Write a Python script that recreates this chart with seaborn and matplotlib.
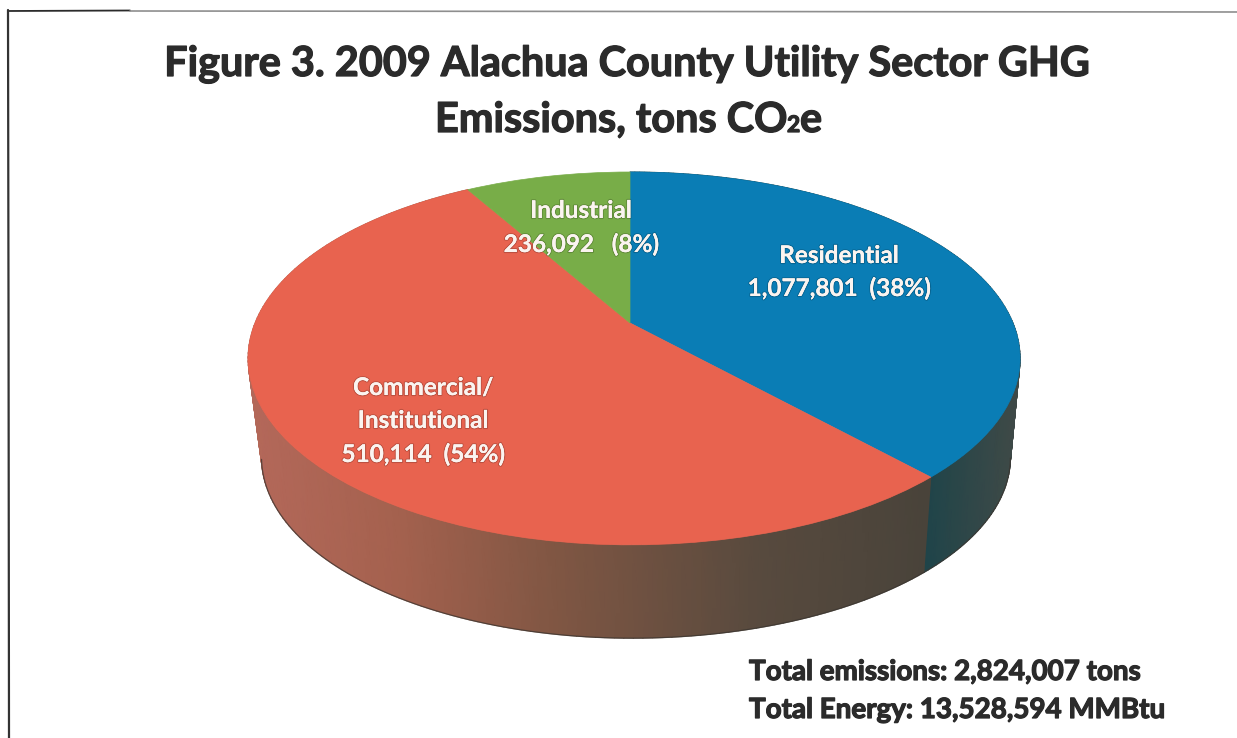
import numpy as np
import seaborn as sns
import matplotlib
matplotlib.use("Agg")
import matplotlib.pyplot as plt
import matplotlib.patheffects as pe
from matplotlib.colors import LinearSegmentedColormap
from matplotlib.transforms import Transform

# data
sectors = ["Residential", "Commercial/\nInstitutional", "Industrial"]
tons_labels = ["1,077,801", "510,114", "236,092"]
percent_labels = ["38%", "54%", "8%"]
label_gaps = ["  ", "  ", "   "]
slice_shares = [38.2, 53.4, 8.4]
totals = ["Total emissions: 2,824,007 tons", "Total Energy: 13,528,594 MMBtu"]

# colours
top_colors = sns.color_palette(["#0a7db5", "#e8634f", "#78ad48"])
wall_stops = {
    "Residential": [(925, "#1f4449"), (1020, "#414a47")],
    "Commercial/\nInstitutional": [(250, "#b4685a"), (400, "#a4614e"), (560, "#7f5643"),
                                   (760, "#584a3e"), (930, "#49433a")],
}

sns.set_theme(style="white")
plt.rcParams["font.family"] = ["Lato", "DejaVu Sans"]


# circle seen in perspective, so the pie's centre sits above the middle of the ellipse
class PieTilt(Transform):
    input_dims = 2
    output_dims = 2
    is_separable = False

    def __init__(self, x0, y0, scale=1.0):
        super().__init__()
        self.x0, self.y0, self.scale = x0, y0, scale

    def transform_non_affine(self, values):
        values = np.asarray(values, dtype=float)
        x, y = values[:, 0], values[:, 1]
        w = 1 + 0.19 * y
        b = np.where(x < 0, 375.0, 383.0)
        return np.column_stack([self.x0 + self.scale * b * x / w,
                                self.y0 - self.scale * 179.7 * y / w])


top_tilt = PieTilt(630, 323)
rim_tilt = PieTilt(632, 423, 0.97)

fig = plt.figure(figsize=(12.37, 7.38), dpi=100, facecolor="white")
ax = fig.add_axes([0, 0, 1, 1])

# side wall, one gouraud strip per slice
edges = np.cumsum([0] + slice_shares) / 100 * 2 * np.pi
for i, name in enumerate(sectors):
    if name not in wall_stops:
        continue
    theta = np.linspace(edges[i], edges[i + 1], 160)
    unit = np.column_stack([np.sin(theta), np.cos(theta)])
    upper = top_tilt.transform_non_affine(unit)
    lower = rim_tilt.transform_non_affine(unit)
    xs = np.vstack([upper[:, 0], lower[:, 0]])
    ys = np.vstack([upper[:, 1], lower[:, 1]])
    lo, hi = wall_stops[name][0][0], wall_stops[name][-1][0]
    cmap = LinearSegmentedColormap.from_list(
        name.split("/")[0], [((x - lo) / (hi - lo), c) for x, c in wall_stops[name]])
    ax.pcolormesh(xs, ys, np.clip(xs, lo, hi), cmap=cmap, vmin=lo, vmax=hi,
                  shading="gouraud", zorder=1)
    # only the near part of the rim is seen
    front = unit[:, 1] < -0.19
    ax.plot(lower[front, 0], lower[front, 1], color="#3a3530", lw=0.9, alpha=0.75, zorder=1.5)

# top face
wedges, _ = ax.pie(slice_shares, colors=top_colors, startangle=90, counterclock=False,
                   wedgeprops={"linewidth": 0.5})
for wedge, color in zip(wedges, top_colors):
    wedge.set_edgecolor(color)
    wedge.set_transform(top_tilt + ax.transData)
    wedge.set_zorder(2)

ax.set_aspect("auto")
ax.set_xlim(0, 1237)
ax.set_ylim(738, 0)
ax.axis("off")

# scanned page border
ax.plot([8, 130], [11, 10.5], color="#2b2b2b", lw=1.3, zorder=3)
ax.plot([130, 1237], [11, 12], color="#8e8e8e", lw=1.2, zorder=3)
ax.plot([8, 8.5, 9], [10, 300, 738], color="#333333", lw=1.6, zorder=3)

title_color = "#2b2b2b"
title_size = 29.8
heavy = [pe.withStroke(linewidth=0.9, foreground=title_color), pe.Normal()]
title_style = dict(ha="left", va="baseline", fontweight="bold", color=title_color, path_effects=heavy)
ax.text(627, 76, "Figure 3. 2009 Alachua County Utility Sector GHG", fontsize=title_size,
        **{**title_style, "ha": "center"})
ax.text(435, 132, "Emissions, tons CO", fontsize=title_size, **title_style)
ax.text(787, 132, "2", fontsize=title_size * 0.55, **title_style)
ax.text(800, 132, "e", fontsize=title_size, **title_style)

# slice labels
soft = [pe.withStroke(linewidth=1.6, foreground="#00000030"), pe.Normal()]
label_size = 17.5
label_spots = [(839, [263, 296]), (423, [395, 428, 462]), (581, [218, 252])]
for name, tons, pct, gap, (x, baselines) in zip(sectors, tons_labels, percent_labels, label_gaps, label_spots):
    lines = name.split("\n") + [f"{tons}{gap}({pct})"]
    for line, y in zip(lines, baselines):
        ax.text(x, y, line, ha="center", va="baseline", fontsize=label_size,
                fontweight="bold", color="#fbf4f0", path_effects=soft, zorder=4)

ax.text(749, 680, totals[0], fontsize=20, **title_style)
ax.text(749, 718, totals[1], fontsize=20, **title_style)

fig.savefig("out.png", dpi=100)
